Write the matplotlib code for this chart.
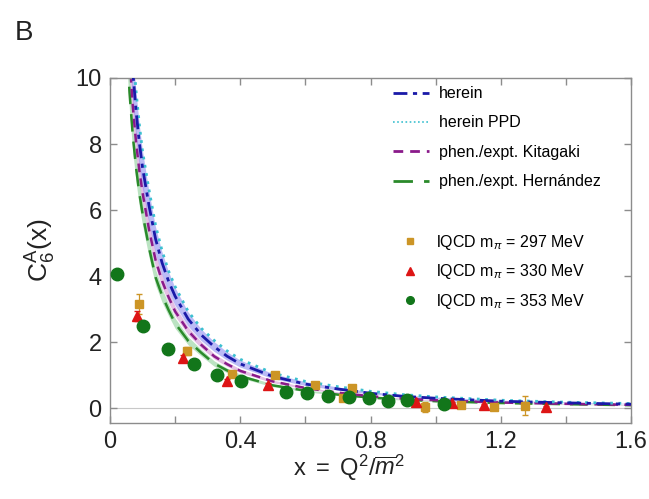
import numpy as np
import matplotlib
matplotlib.use("Agg")
import matplotlib.pyplot as plt
from matplotlib.lines import Line2D

plt.rcParams['font.family'] = ['Liberation Sans', 'DejaVu Sans']
plt.rcParams['mathtext.fontset'] = 'custom'
plt.rcParams['mathtext.rm'] = 'Liberation Sans'
plt.rcParams['mathtext.it'] = 'Liberation Sans:italic'

# curves: C6A(x) on a common x grid
x_curve = [0.05, 0.06, 0.07, 0.08, 0.09, 0.10, 0.12, 0.14, 0.16, 0.18, 0.20, 0.24, 0.28,
           0.32, 0.36, 0.40, 0.50, 0.60, 0.70, 0.80, 0.90, 1.00, 1.20, 1.40, 1.60]
herein = [14.1, 11.8, 10.2, 9.0, 8.05, 7.28, 6.12, 5.12, 4.40, 3.84, 3.39, 2.70, 2.22,
          1.86, 1.57, 1.34, 0.96, 0.73, 0.58, 0.45, 0.36, 0.30, 0.21, 0.16, 0.12]
herein_ppd = [15.0, 12.6, 10.9, 9.6, 8.6, 7.77, 6.6, 5.53, 4.76, 4.15, 3.68, 2.93, 2.42,
              2.05, 1.73, 1.48, 1.06, 0.81, 0.65, 0.51, 0.41, 0.34, 0.24, 0.18, 0.14]
kitagaki = [12.6, 10.6, 9.13, 8.05, 7.2, 6.52, 5.4, 4.48, 3.85, 3.36, 2.93, 2.34, 1.92,
            1.57, 1.33, 1.13, 0.81, 0.61, 0.47, 0.36, 0.29, 0.24, 0.17, 0.13, 0.10]
hernandez = [11.4, 9.55, 8.25, 7.28, 6.51, 5.89, 4.85, 3.96, 3.41, 2.97, 2.57, 2.04, 1.68,
             1.35, 1.14, 0.97, 0.69, 0.53, 0.41, 0.32, 0.26, 0.21, 0.155, 0.12, 0.09]

# relative widths of the uncertainty bands
herein_band = 0.08
kitagaki_band = 0.05
hernandez_band = 0.06

# lattice QCD points
x_297 = [0.09, 0.235, 0.374, 0.507, 0.63, 0.717, 0.742, 0.967, 1.077, 1.178, 1.275]
y_297 = [3.15, 1.72, 1.03, 1.01, 0.71, 0.30, 0.61, 0.03, 0.10, 0.03, 0.08]
e_297 = [0.30, 0.12, 0.10, 0.08, 0.06, 0.06, 0.06, 0.15, 0.08, 0.10, 0.28]

x_330 = [0.082, 0.225, 0.358, 0.486, 0.94, 1.05, 1.147, 1.339]
y_330 = [2.78, 1.52, 0.81, 0.71, 0.20, 0.15, 0.10, 0.03]
e_330 = [0.15, 0.08, 0.06, 0.05, 0.04, 0.04, 0.04, 0.04]

x_353 = [0.02, 0.102, 0.179, 0.259, 0.33, 0.402, 0.54, 0.604, 0.668, 0.734, 0.794,
         0.853, 0.912, 1.027]
y_353 = [4.05, 2.49, 1.79, 1.34, 1.01, 0.81, 0.50, 0.45, 0.38, 0.33, 0.30, 0.23, 0.25, 0.13]
e_353 = [0.12, 0.06, 0.05, 0.04, 0.03, 0.03, 0.03, 0.03, 0.03, 0.03, 0.03, 0.03, 0.03, 0.03]

fig = plt.figure(figsize=(6.49, 4.99), dpi=100)
ax = fig.add_axes([0.1695, 0.1523, 0.8028, 0.6914])

xc = np.array(x_curve)
blue = '#1a1aa8'
cyan = '#3cc0d0'
purple = '#8a1a8a'
green = '#2a8a2a'

h = np.array(herein)
k = np.array(kitagaki)
g = np.array(hernandez)
ax.fill_between(xc, g * (1 - hernandez_band), g * (1 + hernandez_band),
                color='#9fd8a8', alpha=0.7, lw=0, zorder=1)
ax.fill_between(xc, k * (1 - kitagaki_band), k * (1 + kitagaki_band),
                color='#d9a6d9', alpha=0.7, lw=0, zorder=1)
ax.fill_between(xc, h * (1 - herein_band), h * (1 + herein_band),
                color='#8f8ff0', alpha=0.6, lw=0, zorder=1)

ax.axhline(0, color='#c8c8c8', lw=0.8, zorder=0)

ax.plot(xc, hernandez, color=green, lw=1.8, dashes=(7, 4), zorder=2)
ax.plot(xc, kitagaki, color=purple, lw=1.8, dashes=(3.5, 2.5), zorder=2)
ax.plot(xc, herein_ppd, color=cyan, lw=2.0, linestyle=(0, (1, 2)), zorder=3)
ax.plot(xc, herein, color=blue, lw=2.0, dashes=(5, 2, 1.5, 2), zorder=3)

ax.errorbar(x_297, y_297, yerr=e_297, fmt='s', color='#cc9526', ms=5.5,
            elinewidth=0.9, capsize=2.5, zorder=4)
ax.errorbar(x_330, y_330, yerr=e_330, fmt='^', color='#dd1515', ms=7,
            elinewidth=0.9, capsize=2.5, zorder=4)
ax.errorbar(x_353, y_353, yerr=e_353, fmt='o', color='#12761a', ms=9,
            elinewidth=0.9, capsize=2.5, zorder=5)

ax.set_xlim(0, 1.6)
ax.set_ylim(-0.45, 10)
ax.set_xticks([0, 0.4, 0.8, 1.2, 1.6])
ax.set_xticklabels(['0', '0.4', '0.8', '1.2', '1.6'])
ax.set_xticks([0.2, 0.6, 1.0, 1.4], minor=True)
ax.set_yticks([0, 2, 4, 6, 8, 10])

for s in ax.spines.values():
    s.set_color('#8c8c8c')
    s.set_linewidth(1.0)
ax.tick_params(which='both', direction='in', top=True, right=True, length=5,
               width=1.0, color='#8c8c8c', labelsize=17, labelcolor='#222222', pad=6)

ax.set_xlabel(r'$\mathrm{x\ =\ Q^2}/\overline{m}^2$', fontsize=17, color='#222222')
ax.xaxis.set_label_coords(0.459, -0.085)
ax.set_ylabel(r'$\mathrm{C_6^A(x)}$', fontsize=19, color='#222222')
ax.yaxis.set_label_coords(-0.1, 0.5)

fig.text(0.022, 0.92, 'B', fontsize=20, color='#222222')

line_handles = [
    Line2D([], [], color=blue, lw=2.0, dashes=(5, 2, 1.5, 2)),
    Line2D([], [], color=cyan, lw=1.2, linestyle=(0, (1, 1.5))),
    Line2D([], [], color=purple, lw=2.0, dashes=(3.5, 2.5)),
    Line2D([], [], color=green, lw=2.0, dashes=(7, 4)),
]
line_labels = ['herein', 'herein PPD', 'phen./expt. Kitagaki',
               'phen./expt. Hern\u00e1ndez']
leg1 = ax.legend(line_handles, line_labels, loc='upper left',
                 bbox_to_anchor=(0.53, 0.995), frameon=False, fontsize=11.5,
                 handlelength=2.3, handletextpad=0.6, labelspacing=0.9,
                 borderaxespad=0)
ax.add_artist(leg1)

mark_handles = [
    Line2D([], [], color='#cc9526', marker='s', ls='none', ms=4.5),
    Line2D([], [], color='#dd1515', marker='^', ls='none', ms=5.5),
    Line2D([], [], color='#12761a', marker='o', ls='none', ms=5.5),
]
mark_labels = [r'lQCD m$_\pi$ = 297 MeV', r'lQCD m$_\pi$ = 330 MeV',
               r'lQCD m$_\pi$ = 353 MeV']
ax.legend(mark_handles, mark_labels, loc='upper left',
          bbox_to_anchor=(0.55, 0.57), frameon=False, fontsize=11.5,
          handlelength=0.9, handletextpad=1.2, labelspacing=0.66,
          borderaxespad=0)

fig.savefig('out.png', dpi=100)
